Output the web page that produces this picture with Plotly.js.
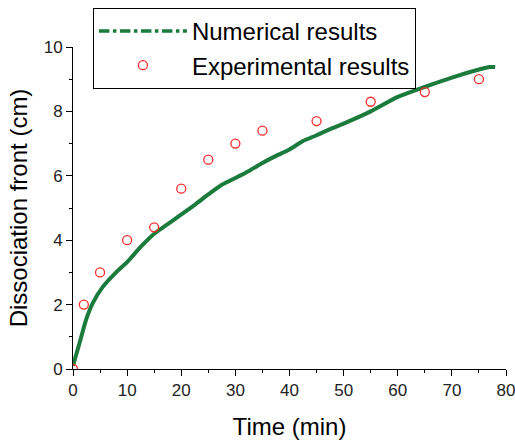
<!DOCTYPE html>
<html>
<head>
<meta charset="utf-8">
<script src="https://cdn.plot.ly/plotly-3.0.1.min.js"></script>
<style>html,body{margin:0;padding:0;background:#fff;}#chart{width:515px;height:443px;}</style>
</head>
<body>
<div id="chart"></div>
<script>
// Numerical results (time in min, dissociation front in cm)
const numTime = [0, 1.2, 2.4, 3.6, 5.5, 8, 10, 12.5, 15, 17.5, 20, 22.5, 25, 27.5, 30, 32.5, 35, 37.5, 40, 42.5, 45, 47.5, 50, 55, 60, 65, 70, 75, 77, 78];
const numFront = [0.1, 0.8, 1.52, 2.03, 2.55, 3.01, 3.32, 3.79, 4.2, 4.5, 4.8, 5.1, 5.42, 5.72, 5.93, 6.15, 6.4, 6.62, 6.82, 7.08, 7.26, 7.45, 7.62, 8.0, 8.45, 8.76, 9.05, 9.3, 9.38, 9.38];
// Experimental results
const expTime = [0, 2, 5, 10, 15, 20, 25, 30, 35, 45, 55, 65, 75];
const expFront = [0, 2.0, 3.0, 4.0, 4.4, 5.6, 6.5, 7.0, 7.4, 7.7, 8.3, 8.6, 9.0];

const green = '#1a7b3c';
const red = '#ff2a2a';

const traces = [
  {x: numTime, y: numFront, mode: 'lines', line: {color: green, width: 4, shape: 'spline', smoothing: 0.6}, showlegend: false, hoverinfo: 'skip'},
  {x: [null], y: [null], mode: 'lines', name: 'Numerical results', line: {color: green, width: 3.5, dash: 'dashdot'}},
  {x: expTime, y: expFront, mode: 'markers', name: 'Experimental results',
   marker: {symbol: 'circle-open', color: red, size: 9, line: {color: red, width: 1.3}}}
];

const tickFont = {family: 'Liberation Sans, Arial, sans-serif', size: 17, color: '#222'};

const layout = {
  width: 515, height: 443,
  margin: {l: 73, r: 9, t: 46, b: 74},
  paper_bgcolor: '#fff', plot_bgcolor: '#fff',
  font: {family: 'Liberation Sans, Arial, sans-serif', color: '#000'},
  showlegend: true,
  legend: {x: 0.046, y: 1.118, xanchor: 'left', yanchor: 'top', bordercolor: '#000', borderwidth: 1,
           bgcolor: '#fff', font: {size: 24, color: '#000'}, itemwidth: 88, tracegroupgap: 0},
  xaxis: {range: [0, 80], autorange: false, showgrid: false, zeroline: false,
          showline: true, linecolor: '#000', linewidth: 1, ticklabeloverflow: 'allow',
          ticks: 'outside', tickcolor: '#000', ticklen: 6, tickwidth: 1, dtick: 10, tick0: 0,
          minor: {ticks: 'outside', dtick: 5, ticklen: 3, tickcolor: '#000', tickwidth: 1},
          tickfont: tickFont,
          title: {text: 'Time (min)', font: {size: 24, color: '#000'}, standoff: 18}},
  yaxis: {range: [0, 10], autorange: false, showgrid: false, zeroline: false,
          showline: true, linecolor: '#000', linewidth: 1, ticklabeloverflow: 'allow',
          ticks: 'outside', tickcolor: '#000', ticklen: 6, tickwidth: 1, dtick: 2, tick0: 0,
          minor: {ticks: 'outside', dtick: 1, ticklen: 3, tickcolor: '#000', tickwidth: 1},
          tickfont: tickFont,
          title: {text: 'Dissociation front (cm)', font: {size: 24, color: '#000'}, standoff: 9}}
};

Plotly.newPlot('chart', traces, layout, {displayModeBar: false, staticPlot: true});
</script>
</body>
</html>
